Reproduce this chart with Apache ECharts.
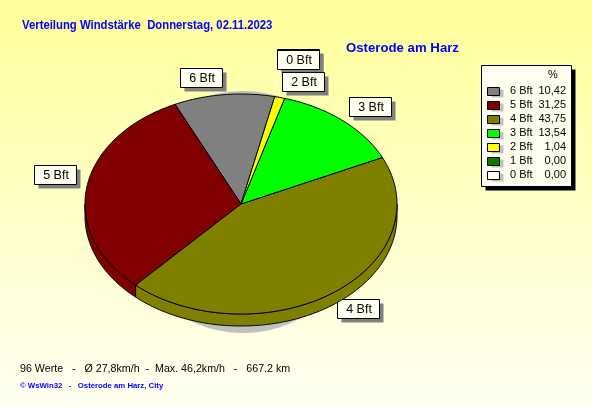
<!DOCTYPE html>
<html><head><meta charset="utf-8">
<style>html,body{margin:0;padding:0;background:#fff;overflow:hidden}#c{width:592px;height:407px}</style>
<script src="https://cdn.jsdelivr.net/npm/echarts@6/dist/echarts.min.js"></script>
</head><body><div id="c"></div>
<script>
// ---- data ----
const categories = ['6 Bft','5 Bft','4 Bft','3 Bft','2 Bft','1 Bft','0 Bft'];
const percentValues = [10.42,31.25,43.75,13.54,1.04,0.00,0.00];
const percentLabels = ['10,42','31,25','43,75','13,54','1,04','0,00','0,00'];
const titleText = 'Verteilung Windstärke  Donnerstag, 02.11.2023';
const stationText = 'Osterode am Harz';
const statsText = '96 Werte   -   Ø 27,8km/h  -  Max. 46,2km/h   -   667.2 km';
const creditText = '© WsWin32   -   Osterode am Harz, City';
// ---- style / layout ----
const colors = ['#808080','#800000','#808000','#00FF00','#FFFF00','#008000','#FFFFF0'];
const pie = {cx:241, cy:204, rx:156, ry:110, depth:12, start:282.5};
const labelBoxes = {
  '6 Bft':{x:180,y:68,tx:222,ty:87,lx:225,ly:87},
  '5 Bft':{x:34,y:165,tx:76,ty:184,lx:76,ly:184},
  '4 Bft':{x:337,y:299,tx:379,ty:318,lx:337,ly:299},
  '3 Bft':{x:349,y:97,tx:391,ty:116,lx:349,ly:116},
  '2 Bft':{x:282,y:72,tx:324,ty:91,lx:282,ly:91},
  '1 Bft':{x:277,y:49,tx:319,ty:68,lx:277,ly:68},
  '0 Bft':{x:277,y:50,tx:319,ty:69,lx:277,ly:69}
};
const labelOrder = ['6 Bft','5 Bft','4 Bft','3 Bft','1 Bft','0 Bft','2 Bft'];
const paper = '#FFFFF0';
const F = 'Liberation Sans';

// slices run counter-clockwise from the start angle, in legend order
let acc = pie.start;
const spans = percentValues.map(v => { const a1 = acc, a0 = acc - v*3.6; acc = a0; return [a0,a1]; });
const rowData = categories.map((c,i)=>[i,percentValues[i],spans[i][0],spans[i][1]]);
const pt = (deg,dy=0)=>{const r=deg*Math.PI/180;return [pie.cx+pie.rx*Math.cos(r),pie.cy+dy+pie.ry*Math.sin(r)];};
const arc = (a0,a1,dy=0)=>{const o=[];const n=Math.max(1,Math.ceil((a1-a0)));for(let k=0;k<=n;k++)o.push(pt(a0+(a1-a0)*k/n,dy));return o;};
const lineStyle = {stroke:'#000',lineWidth:1};

function discItem(){ return {type:'circle',shape:{cx:243,cy:212,r:121},style:{fill:'#C0C0C0'}}; }
function rimItem(params,api){
  const v=api.value(1),a0=api.value(2),a1=api.value(3),i=api.value(0);
  if(v<=0) return {type:'group',children:[]};
  const children=[];
  [-360,0,360].forEach(s=>{
    const b0=Math.max(a0,s),b1=Math.min(a1,s+180);
    if(b1>b0){
      const top=arc(b0,b1),bot=arc(b0,b1,pie.depth).reverse();
      children.push({type:'polygon',shape:{points:top.concat(bot)},style:{fill:colors[i],...lineStyle}});
    }
  });
  return {type:'group',children};
}
function topItem(params,api){
  const v=api.value(1),a0=api.value(2),a1=api.value(3),i=api.value(0);
  if(v<=0) return {type:'group',children:[]};
  return {type:'polygon',shape:{points:[[pie.cx,pie.cy]].concat(arc(a0,a1))},style:{fill:colors[i],...lineStyle}};
}

const g=[];
const txt=(text,x,y,o={})=>g.push({type:'text',z2:o.z||100,x,y,scaleX:o.sx||1,silent:true,style:{text,fill:o.fill||'#000',font:`${o.weight||'normal'} ${o.size||12}px "${o.family||F}"`,textAlign:o.align||'left',textVerticalAlign:'middle'}});
const rect=(x,y,w,h,fill,stroke,z)=>g.push({type:'rect',z2:z,silent:true,shape:{x:x+.5,y:y+.5,width:w,height:h},style:{fill,stroke:stroke||null,lineWidth:1}});

txt(titleText,22,26,{fill:'#0000FF',weight:'bold',size:12.5,sx:.906});
txt(stationText,346,49,{fill:'#0000FF',weight:'bold',size:12,sx:1.1});
txt(statsText,20,369,{size:11,sx:.97});
txt(creditText,20,386,{fill:'#0000FF',size:8,weight:'bold',sx:.97});

rect(485,69,90,121,'#000',null,60);
rect(481,65,90,121,paper,'#000',61);
txt('%',553,75,{align:'center',size:11});
categories.forEach((c,i)=>{
  const y=91+14*i;
  rect(491,y-2,12,8,'#C0C0C0',null,62);
  rect(487,y-4,12,8,colors[i],'#000',63);
  txt(c,510,y,{size:11});
  txt(percentLabels[i],566,y,{align:'right',size:11});
});

labelOrder.forEach((c,oi)=>{
  const i=categories.indexOf(c),b=labelBoxes[c];
  const z=10+oi*3;
  const m=pt((spans[i][0]+spans[i][1])/2);
  g.push({type:'line',z2:5,silent:true,shape:{x1:m[0],y1:m[1],x2:b.lx,y2:b.ly},style:{stroke:'#FFFFE8',lineWidth:1}});
  const w=b.tx-b.x,h=b.ty-b.y;
  rect(b.x+4,b.y+4,w,h,'#808080',null,z);
  rect(b.x,b.y,w,h,paper,'#000',z+1);
  if(c!=='1 Bft') txt(c,b.x+w/2+1,b.y+h/2+1,{align:'center',size:12.5,z:z+2});
});

const chart=echarts.init(document.getElementById('c'),null,{renderer:'canvas'});
chart.setOption({
  animation:false,
  backgroundColor:{type:'linear',x:0,y:0,x2:0,y2:1,colorStops:[{offset:0,color:'#FFFF99'},{offset:1,color:'#FFFFF2'}]},
  graphic:{z:50,elements:g},
  series:[
    {type:'custom',coordinateSystem:'none',renderItem:discItem,data:[0],z:1,silent:true},
    {type:'custom',coordinateSystem:'none',renderItem:rimItem,data:rowData,z:5,silent:true},
    {type:'custom',coordinateSystem:'none',renderItem:topItem,data:rowData,z:6,silent:true}
  ]
});
</script></body></html>
